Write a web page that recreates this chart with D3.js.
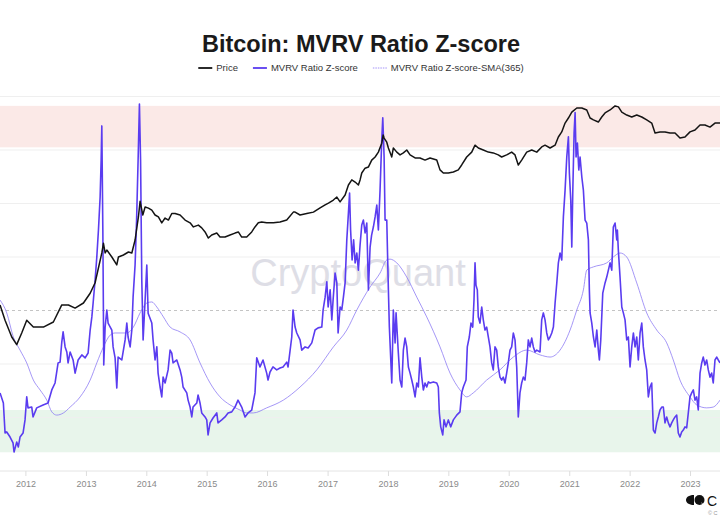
<!DOCTYPE html>
<html><head><meta charset="utf-8">
<script src="https://cdn.jsdelivr.net/npm/d3@7"></script>
<style>
body{margin:0;background:#fff}
svg{display:block}
text{font-family:"Liberation Sans",Arial,Helvetica,sans-serif}
</style>
</head><body><svg id="chart" width="720" height="530"></svg>
<script>
// ---------- data ----------
const chartTitle = "Bitcoin: MVRV Ratio Z-score";
const legendLabels = ["Price", "MVRV Ratio Z-score", "MVRV Ratio Z-score-SMA(365)"];
const yearTicks = [2012,2013,2014,2015,2016,2017,2018,2019,2020,2021,2022,2023];
const priceGridValues = [0.1, 1, 100, 1000, 10000, 100000];
const priceReferenceLevel = 10;
const overheatedZone = [10.1, 11.65];
const undervaluedZone = [-1.3, 0.28];

// [decimal year, z-score]
const zScoreSeries = [[2011.580,0.92],[2011.635,0.54],[2011.663,-0.58],[2011.691,-0.54],[2011.746,-0.73],[2011.795,-0.95],[2011.812,-1.29],[2011.856,-0.92],[2011.883,-1.10],[2011.911,-0.73],[2011.961,-0.58],[2011.994,-0.09],[2012.022,0.77],[2012.043,0.36],[2012.105,0.39],[2012.126,0.02],[2012.187,0.36],[2012.292,0.47],[2012.374,0.54],[2012.436,1.03],[2012.490,1.29],[2012.540,2.04],[2012.573,2.07],[2012.601,2.82],[2012.623,3.20],[2012.656,2.64],[2012.684,2.45],[2012.705,2.04],[2012.739,2.45],[2012.788,2.15],[2012.821,1.66],[2012.871,2.15],[2012.932,2.34],[2012.987,2.23],[2013.036,2.41],[2013.070,3.27],[2013.098,3.76],[2013.119,4.28],[2013.152,5.14],[2013.180,6.00],[2013.207,7.00],[2013.235,8.24],[2013.252,9.63],[2013.263,10.90],[2013.280,7.00],[2013.288,4.39],[2013.295,1.96],[2013.318,3.38],[2013.346,4.02],[2013.367,3.53],[2013.429,3.27],[2013.450,2.64],[2013.483,2.23],[2013.511,1.10],[2013.533,2.26],[2013.594,2.15],[2013.649,2.90],[2013.677,3.53],[2013.698,3.01],[2013.732,2.64],[2013.760,3.27],[2013.781,4.50],[2013.814,5.70],[2013.839,7.38],[2013.864,9.63],[2013.886,11.72],[2013.905,9.63],[2013.925,5.14],[2013.947,2.90],[2013.980,4.39],[2014.008,5.70],[2014.030,3.90],[2014.091,3.53],[2014.112,2.90],[2014.145,2.15],[2014.174,2.64],[2014.195,1.66],[2014.228,1.14],[2014.256,0.77],[2014.278,1.51],[2014.311,1.29],[2014.361,1.78],[2014.394,2.52],[2014.422,2.41],[2014.443,2.04],[2014.505,2.15],[2014.559,1.78],[2014.587,1.51],[2014.609,1.14],[2014.670,0.92],[2014.692,0.65],[2014.725,0.39],[2014.753,0.02],[2014.774,0.39],[2014.836,0.54],[2014.857,0.84],[2014.890,0.54],[2014.918,0.17],[2014.973,0.02],[2015.001,-0.09],[2015.023,-0.65],[2015.056,-0.20],[2015.105,-0.02],[2015.167,0.17],[2015.188,-0.20],[2015.249,-0.09],[2015.304,0.02],[2015.354,0.17],[2015.415,0.21],[2015.469,0.39],[2015.519,0.65],[2015.580,0.39],[2015.635,0.02],[2015.685,0.17],[2015.746,0.28],[2015.800,0.92],[2015.829,2.23],[2015.883,1.89],[2015.933,2.15],[2015.994,1.66],[2016.016,1.40],[2016.049,1.70],[2016.098,1.89],[2016.160,1.78],[2016.214,1.85],[2016.264,1.89],[2016.325,2.07],[2016.347,1.89],[2016.408,3.01],[2016.429,4.02],[2016.463,3.38],[2016.491,3.16],[2016.545,2.90],[2016.573,2.52],[2016.628,2.64],[2016.678,2.60],[2016.739,2.79],[2016.793,3.27],[2016.843,3.35],[2016.904,3.38],[2016.926,4.02],[2016.959,4.50],[2016.987,5.07],[2017.009,4.13],[2017.042,4.77],[2017.070,3.65],[2017.091,4.39],[2017.124,5.40],[2017.153,5.03],[2017.174,3.16],[2017.207,4.13],[2017.235,4.02],[2017.262,4.50],[2017.290,5.03],[2017.318,6.64],[2017.348,7.76],[2017.364,8.39],[2017.381,7.01],[2017.406,5.89],[2017.431,6.64],[2017.456,5.78],[2017.484,6.15],[2017.510,5.51],[2017.538,6.45],[2017.566,7.20],[2017.593,7.38],[2017.621,6.90],[2017.649,7.27],[2017.676,4.77],[2017.704,6.37],[2017.729,6.82],[2017.758,7.12],[2017.787,7.50],[2017.815,7.94],[2017.841,7.01],[2017.869,8.50],[2017.897,10.37],[2017.914,11.20],[2017.936,9.74],[2017.952,7.38],[2017.980,7.38],[2018.007,4.77],[2018.023,3.38],[2018.063,1.29],[2018.089,4.02],[2018.118,2.79],[2018.134,3.91],[2018.172,2.41],[2018.200,1.40],[2018.229,1.14],[2018.255,2.52],[2018.283,2.97],[2018.311,2.64],[2018.338,1.89],[2018.366,1.66],[2018.394,1.40],[2018.420,1.14],[2018.449,0.77],[2018.477,1.29],[2018.503,1.14],[2018.531,2.23],[2018.560,1.51],[2018.586,1.03],[2018.614,1.29],[2018.642,1.14],[2018.669,1.33],[2018.697,1.29],[2018.752,1.33],[2018.808,1.29],[2018.834,1.14],[2018.851,0.17],[2018.874,-0.35],[2018.907,-0.65],[2018.929,-0.09],[2018.962,-0.35],[2019.000,-0.09],[2019.039,-0.35],[2019.083,-0.09],[2019.139,0.09],[2019.193,0.21],[2019.221,0.92],[2019.248,1.14],[2019.293,1.40],[2019.314,2.64],[2019.347,3.01],[2019.375,3.53],[2019.404,3.38],[2019.425,4.39],[2019.442,5.78],[2019.458,4.95],[2019.480,4.77],[2019.496,3.76],[2019.524,3.53],[2019.553,4.13],[2019.579,3.65],[2019.607,3.27],[2019.635,3.38],[2019.662,3.01],[2019.690,2.64],[2019.718,2.04],[2019.744,1.78],[2019.773,2.64],[2019.801,2.52],[2019.827,1.89],[2019.855,1.51],[2019.883,1.40],[2019.910,1.51],[2019.938,1.29],[2019.966,1.66],[2019.993,2.04],[2020.021,2.52],[2020.049,2.64],[2020.076,3.16],[2020.104,2.90],[2020.132,1.89],[2020.158,0.02],[2020.186,0.92],[2020.214,1.29],[2020.241,1.51],[2020.269,1.40],[2020.297,2.04],[2020.324,2.90],[2020.352,2.64],[2020.380,2.97],[2020.407,2.64],[2020.435,2.45],[2020.463,2.52],[2020.517,2.45],[2020.545,3.65],[2020.572,3.91],[2020.600,3.65],[2020.628,3.16],[2020.655,2.90],[2020.683,3.01],[2020.711,3.16],[2020.738,3.38],[2020.766,4.28],[2020.794,5.03],[2020.820,5.78],[2020.848,6.15],[2020.876,5.89],[2020.903,7.50],[2020.931,8.50],[2020.959,9.74],[2020.986,10.49],[2021.002,9.14],[2021.025,8.13],[2021.042,6.37],[2021.059,8.50],[2021.080,10.63],[2021.097,11.40],[2021.113,9.74],[2021.135,10.26],[2021.158,9.25],[2021.179,9.74],[2021.208,8.99],[2021.234,8.50],[2021.262,7.38],[2021.290,7.27],[2021.317,6.64],[2021.333,4.77],[2021.345,3.91],[2021.373,3.53],[2021.400,3.01],[2021.428,2.64],[2021.456,3.27],[2021.482,2.52],[2021.499,2.15],[2021.522,2.90],[2021.555,4.65],[2021.593,5.03],[2021.621,5.25],[2021.676,5.78],[2021.704,5.51],[2021.730,7.12],[2021.759,7.27],[2021.787,6.64],[2021.797,7.01],[2021.813,6.26],[2021.841,5.25],[2021.870,4.13],[2021.896,3.91],[2021.924,3.65],[2021.952,2.90],[2021.979,3.01],[2022.007,1.89],[2022.035,2.64],[2022.062,3.16],[2022.090,2.64],[2022.118,3.01],[2022.144,2.15],[2022.173,3.16],[2022.201,3.53],[2022.227,2.64],[2022.255,2.15],[2022.283,1.78],[2022.310,0.77],[2022.338,1.14],[2022.366,1.29],[2022.393,-0.47],[2022.421,-0.58],[2022.449,-0.20],[2022.475,0.02],[2022.503,0.28],[2022.532,0.39],[2022.558,0.39],[2022.586,-0.20],[2022.614,0.02],[2022.641,-0.20],[2022.669,-0.35],[2022.697,-0.20],[2022.723,-0.09],[2022.752,0.02],[2022.780,0.09],[2022.806,-0.58],[2022.834,-0.73],[2022.862,-0.54],[2022.889,-0.47],[2022.917,-0.35],[2022.945,-0.39],[2022.972,0.17],[2023.000,0.77],[2023.028,0.92],[2023.055,1.03],[2023.083,0.65],[2023.111,0.77],[2023.137,0.28],[2023.166,1.66],[2023.194,2.04],[2023.220,2.26],[2023.248,1.96],[2023.276,2.15],[2023.303,1.78],[2023.331,1.51],[2023.359,1.66],[2023.385,1.29],[2023.414,2.15],[2023.442,2.26],[2023.468,2.15],[2023.497,2.04]];

// [decimal year, z-score SMA(365)]
const zScoreSmaSeries = [[2011.580,4.39],[2011.691,3.91],[2011.800,3.01],[2011.911,2.52],[2012.022,2.04],[2012.131,1.40],[2012.242,1.03],[2012.353,0.65],[2012.436,0.21],[2012.518,0.09],[2012.628,0.17],[2012.739,0.39],[2012.904,0.77],[2013.070,1.40],[2013.180,2.04],[2013.290,2.64],[2013.401,3.08],[2013.483,3.16],[2013.677,3.16],[2013.786,3.38],[2013.897,3.91],[2014.008,4.28],[2014.091,4.32],[2014.174,4.13],[2014.283,3.76],[2014.394,3.38],[2014.559,3.20],[2014.725,2.90],[2014.890,2.04],[2015.056,1.29],[2015.221,0.77],[2015.387,0.47],[2015.552,0.28],[2015.663,0.17],[2015.772,0.17],[2015.994,0.36],[2016.269,0.65],[2016.545,1.14],[2016.821,1.78],[2017.096,2.64],[2017.318,3.27],[2017.484,4.02],[2017.704,4.88],[2017.869,5.40],[2017.980,5.89],[2018.035,5.92],[2018.146,5.78],[2018.311,5.25],[2018.477,4.50],[2018.642,3.76],[2018.862,2.64],[2019.028,1.66],[2019.193,1.03],[2019.304,0.77],[2019.413,0.92],[2019.635,1.40],[2019.855,1.78],[2020.076,2.26],[2020.297,2.52],[2020.517,2.34],[2020.683,2.26],[2020.848,2.52],[2021.014,3.27],[2021.125,4.02],[2021.234,4.77],[2021.290,5.51],[2021.400,5.63],[2021.621,5.78],[2021.730,6.00],[2021.841,6.15],[2021.952,6.00],[2022.118,5.03],[2022.283,3.91],[2022.449,3.27],[2022.614,2.79],[2022.723,2.15],[2022.834,1.40],[2023.000,0.77],[2023.111,0.47],[2023.276,0.36],[2023.385,0.39],[2023.497,0.65]];

// [decimal year, BTC price in USD]
const priceSeries = [[2011.580,12.7],[2011.663,6.6],[2011.774,3.2],[2011.856,2.3],[2011.939,3.8],[2012.022,6.6],[2012.131,4.9],[2012.297,4.9],[2012.462,6.1],[2012.601,12.7],[2012.711,12.7],[2012.821,11.1],[2012.959,13.8],[2013.070,21],[2013.152,33],[2013.263,119],[2013.290,180],[2013.318,119],[2013.346,135],[2013.429,100],[2013.511,71],[2013.538,100],[2013.621,109],[2013.704,124],[2013.760,119],[2013.814,208],[2013.869,560],[2013.897,1100],[2013.942,610],[2013.980,860],[2014.035,820],[2014.091,750],[2014.145,610],[2014.200,560],[2014.256,435],[2014.311,535],[2014.366,490],[2014.422,650],[2014.476,650],[2014.559,610],[2014.642,490],[2014.725,435],[2014.780,365],[2014.862,395],[2014.918,350],[2014.973,294],[2015.028,226],[2015.083,258],[2015.167,280],[2015.221,236],[2015.304,236],[2015.387,258],[2015.469,280],[2015.524,294],[2015.580,236],[2015.663,236],[2015.746,294],[2015.800,365],[2015.855,435],[2015.911,450],[2015.994,435],[2016.104,435],[2016.214,450],[2016.325,490],[2016.434,690],[2016.463,690],[2016.545,610],[2016.656,650],[2016.766,690],[2016.876,825],[2016.959,940],[2017.014,1020],[2017.096,1160],[2017.153,1320],[2017.207,1070],[2017.290,1440],[2017.345,2220],[2017.401,2760],[2017.456,2520],[2017.510,2220],[2017.538,2760],[2017.566,3720],[2017.621,4570],[2017.675,4800],[2017.731,6480],[2017.787,7400],[2017.841,9130],[2017.897,13400],[2017.920,19000],[2017.936,16700],[2017.980,14000],[2018.007,10900],[2018.063,7400],[2018.089,10900],[2018.146,9130],[2018.200,8100],[2018.255,8830],[2018.311,10000],[2018.366,8100],[2018.449,7100],[2018.531,7100],[2018.614,6480],[2018.697,7100],[2018.808,6480],[2018.862,4250],[2018.917,3720],[2019.000,3720],[2019.083,3880],[2019.165,4250],[2019.221,5250],[2019.304,7400],[2019.387,9130],[2019.442,12300],[2019.497,10900],[2019.579,10000],[2019.662,9130],[2019.744,8830],[2019.827,8100],[2019.883,7400],[2019.966,8100],[2020.049,9130],[2020.104,8100],[2020.158,5250],[2020.214,6480],[2020.297,9130],[2020.380,10000],[2020.463,9130],[2020.545,11400],[2020.600,12300],[2020.683,10900],[2020.766,12300],[2020.820,17500],[2020.876,21800],[2020.931,31900],[2020.986,39600],[2021.042,51000],[2021.125,61000],[2021.208,61000],[2021.290,56000],[2021.345,39600],[2021.400,36500],[2021.482,33300],[2021.538,41400],[2021.593,49300],[2021.676,56000],[2021.759,66600],[2021.814,64000],[2021.870,51000],[2021.952,45000],[2022.035,41400],[2022.118,45000],[2022.201,41400],[2022.283,36500],[2022.366,31900],[2022.421,20800],[2022.503,21800],[2022.586,21800],[2022.669,20800],[2022.752,20800],[2022.834,16700],[2022.917,17500],[2023.000,21800],[2023.083,23600],[2023.166,29300],[2023.248,29300],[2023.331,26800],[2023.414,31900],[2023.497,31900]];

// ---------- drawing ----------
const W = 720, H = 530;
const svg = d3.select("#chart");

function toDate(t) {
  const y = Math.floor(t);
  const s = Date.UTC(y, 0, 1), e = Date.UTC(y + 1, 0, 1);
  return new Date(s + (t - y) * (e - s));
}

const x = d3.scaleUtc()
  .domain([new Date(Date.UTC(2012, 0, 1)), new Date(Date.UTC(2023, 0, 1))])
  .range([25.4, 690]);
const yZ = d3.scaleLinear().domain([-2, 12]).range([471, 96.5]);
const yP = d3.scaleLog().domain([0.01, 100000]).range([471, 96.5]);

// zones
svg.append("rect").attr("x", 0).attr("width", W)
  .attr("y", yZ(overheatedZone[1])).attr("height", yZ(overheatedZone[0]) - yZ(overheatedZone[1]))
  .attr("fill", "#fbe9e7");
svg.append("rect").attr("x", 0).attr("width", W)
  .attr("y", yZ(undervaluedZone[1])).attr("height", yZ(undervaluedZone[0]) - yZ(undervaluedZone[1]))
  .attr("fill", "#e8f5eb");

// gridlines
svg.append("g").selectAll("line").data(priceGridValues).join("line")
  .attr("x1", 0).attr("x2", W)
  .attr("y1", d => yP(d)).attr("y2", d => yP(d))
  .attr("stroke", "#efefef").attr("stroke-width", 1);
svg.append("line").attr("x1", 0).attr("x2", W)
  .attr("y1", yP(priceReferenceLevel)).attr("y2", yP(priceReferenceLevel))
  .attr("stroke", "#c4c4c4").attr("stroke-width", 1).attr("stroke-dasharray", "3,3");

// watermark
svg.append("text").attr("x", 358).attr("y", 286).attr("text-anchor", "middle")
  .attr("font-size", 38).attr("fill", "#dedee6").text("CryptoQuant");

// x axis
svg.append("line").attr("x1", 0).attr("x2", W).attr("y1", 471).attr("y2", 471)
  .attr("stroke", "#e4e4e4");
const xAxis = d3.axisBottom(x)
  .tickValues(yearTicks.map(yv => new Date(Date.UTC(yv, 0, 1))))
  .tickFormat(d3.utcFormat("%Y")).tickSize(5).tickPadding(5);
const gx = svg.append("g").attr("transform", "translate(0,471)").call(xAxis);
gx.select(".domain").remove();
gx.selectAll(".tick line").attr("stroke", "#dddddd");
gx.selectAll(".tick text").attr("fill", "#8a8a8a").attr("font-size", 9)
  .attr("font-family", "'Liberation Sans', Arial, sans-serif");

// lines
const lineZ = d3.line().x(d => x(toDate(d[0]))).y(d => yZ(d[1]));
const lineP = d3.line().x(d => x(toDate(d[0]))).y(d => yP(d[1]));

svg.append("path").datum(zScoreSmaSeries).attr("d", lineZ.curve(d3.curveMonotoneX))
  .attr("fill", "none").attr("stroke", "#8e7cf4").attr("stroke-width", 0.8);
svg.append("path").datum(zScoreSeries).attr("d", d3.line().x(d => x(toDate(d[0]))).y(d => yZ(d[1])))
  .attr("fill", "none").attr("stroke", "#5a3cf0").attr("stroke-width", 1.6).attr("stroke-linejoin", "round");
svg.append("path").datum(priceSeries).attr("d", lineP)
  .attr("fill", "none").attr("stroke", "#141414").attr("stroke-width", 1.5).attr("stroke-linejoin", "round");

// title
svg.append("text").attr("x", 361).attr("y", 51.5).attr("text-anchor", "middle")
  .attr("font-size", 23.5).attr("font-weight", "bold").attr("fill", "#1a1a1a").text(chartTitle);

// legend
const legendStyles = [
  {color: "#141414", width: 1.8, dash: null},
  {color: "#5a3cf0", width: 1.8, dash: null},
  {color: "#a393f7", width: 1, dash: "1.5,1"}
];
const lg = svg.append("g");
let cx = 202;
legendLabels.forEach((lab, i) => {
  const st = legendStyles[i];
  lg.append("line").attr("x1", cx).attr("x2", cx + 14).attr("y1", 68).attr("y2", 68)
    .attr("stroke", st.color).attr("stroke-width", st.width).attr("stroke-dasharray", st.dash);
  const t = lg.append("text").attr("x", cx + 18).attr("y", 71.3).attr("font-size", 9.5)
    .attr("fill", "#333").text(lab);
  cx += 18 + t.node().getComputedTextLength() + 15;
});
const lgBox = lg.node().getBBox();
lg.attr("transform", `translate(${361 - (lgBox.x + lgBox.width / 2)},0)`);

// logo (bottom right)
svg.append("path").attr("d", "M694,495 C688.5,495 686,497.5 686,500 C686,502.5 688.5,505 694,505 Z").attr("fill", "#111");
svg.append("circle").attr("cx", 699.5).attr("cy", 500).attr("r", 5).attr("fill", "#111");
svg.append("path").attr("d", "M701,502 L705,506 L703,506 Z").attr("fill", "#fff");
svg.append("text").attr("x", 707).attr("y", 505.5).attr("font-size", 14).attr("fill", "#111").text("C");
svg.append("text").attr("x", 708).attr("y", 515).attr("font-size", 5.5).attr("fill", "#999").text("© C");
</script>
</body></html>
